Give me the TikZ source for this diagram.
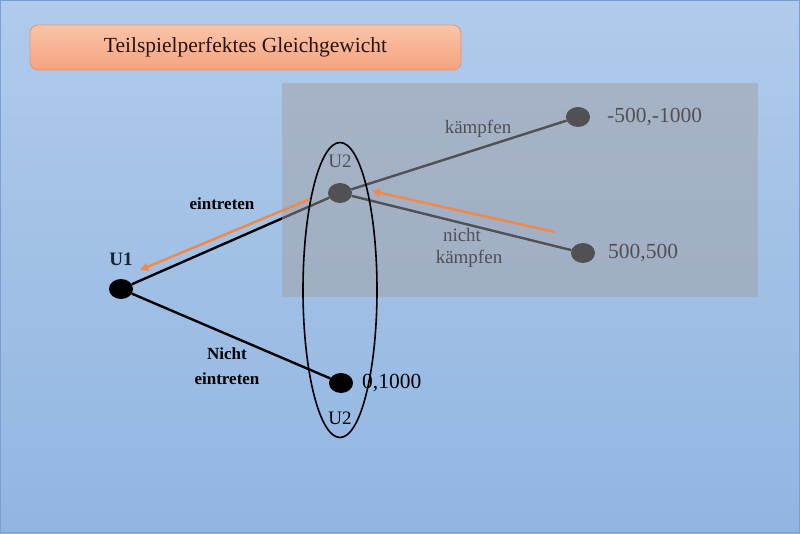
\documentclass[tikz,border=0pt]{standalone}
\usepackage{fontspec}
\setmainfont{Liberation Serif}
\usetikzlibrary{shapes.geometric,arrows.meta}
\definecolor{bgtop}{RGB}{176,203,235}
\definecolor{bgbot}{RGB}{146,181,225}
\definecolor{frame}{RGB}{120,160,214}
\definecolor{titletop}{RGB}{250,196,170}
\definecolor{titlebot}{RGB}{245,163,126}
\definecolor{titleborder}{RGB}{228,148,116}
\definecolor{titletext}{RGB}{40,20,20}
\definecolor{veil}{RGB}{162,160,165}
\definecolor{arroworange}{RGB}{241,138,72}
\definecolor{ulabel}{RGB}{25,35,55}
\tikzset{
  treenode/.style={ellipse,fill=black,minimum width=24pt,minimum height=20pt,inner sep=0pt},
  branch/.style={line width=2.4pt,black},
  lbl/.style={font=\fontsize{19}{22}\selectfont,align=center,inner sep=0pt},
  lblbold/.style={font=\bfseries\fontsize{17}{25}\selectfont,align=center,inner sep=0pt},
  payoff/.style={font=\fontsize{21.5}{24}\selectfont,anchor=west,inner sep=0pt},
  ulbl/.style={font=\fontsize{19}{23}\selectfont,inner sep=0pt},
  hint/.style={line width=2.5pt,arroworange,-{Triangle[length=8pt,width=8pt]}}
}
\begin{document}
\begin{tikzpicture}[x=1pt,y=1pt]
\useasboundingbox (0,0) rectangle (800,533);
% background
\shade[top color=bgtop,bottom color=bgbot] (0,0) rectangle (800,533);
\draw[frame,line width=1pt] (0.5,0.5) rectangle (799.5,532.5);
% title
\node[draw=titleborder,line width=0.8pt,rounded corners=8pt,top color=titletop,bottom color=titlebot,
  minimum width=431pt,minimum height=45pt,inner sep=0pt,text=titletext,
  font=\fontsize{21.5}{24}\selectfont] (title) at (245.5,485.5) {Teilspielperfektes Gleichgewicht};
% tree nodes
\node[treenode] (u1) at (121,244) {};
\node[treenode] (u2) at (340,340) {};
\node[treenode] (t1) at (578,416) {};
\node[treenode] (t2) at (583,280) {};
\node[treenode] (t3) at (341,150) {};
% branches
\draw[branch] (u1) -- (u2);
\draw[branch] (u1) -- (t3);
\draw[branch] (u2) -- (t1);
\draw[branch] (u2) -- (t2);
% labels
\node[ulbl,font=\bfseries\fontsize{19}{23}\selectfont,text=ulabel] (l1) at (121,274) {U1};
\node[ulbl] (l2) at (340,372) {U2};
\node[ulbl] (l3) at (340,115) {U2};
\node[payoff] (p1) at (607,416) {-500,-1000};
\node[payoff] (p2) at (608,280) {500,500};
\node[payoff] (p3) at (362,150) {0,1000};
\node[lblbold] (e1) at (222,329) {eintreten};
\node[lblbold] (e2) at (227,167) {Nicht\\eintreten};
\node[lbl] (k1) at (478,404) {kämpfen};
\node[lbl] (k2) at (462,285) {nicht\\\hspace*{14pt}kämpfen};
% subgame veil
\fill[veil,opacity=0.5] (282,236) rectangle (758,450);
% information set ellipse
\node[draw=black,line width=1.6pt,ellipse,minimum width=74pt,minimum height=295pt,inner sep=0pt] (iset) at (340,243) {};
% backward induction arrows
\coordinate (a1s) at (310,334);
\coordinate (a1e) at (140,263);
\coordinate (a2s) at (555,301);
\coordinate (a2e) at (372,342);
\draw[hint] (a1s) -- (a1e);
\draw[hint] (a2s) -- (a2e);
\end{tikzpicture}
\end{document}
